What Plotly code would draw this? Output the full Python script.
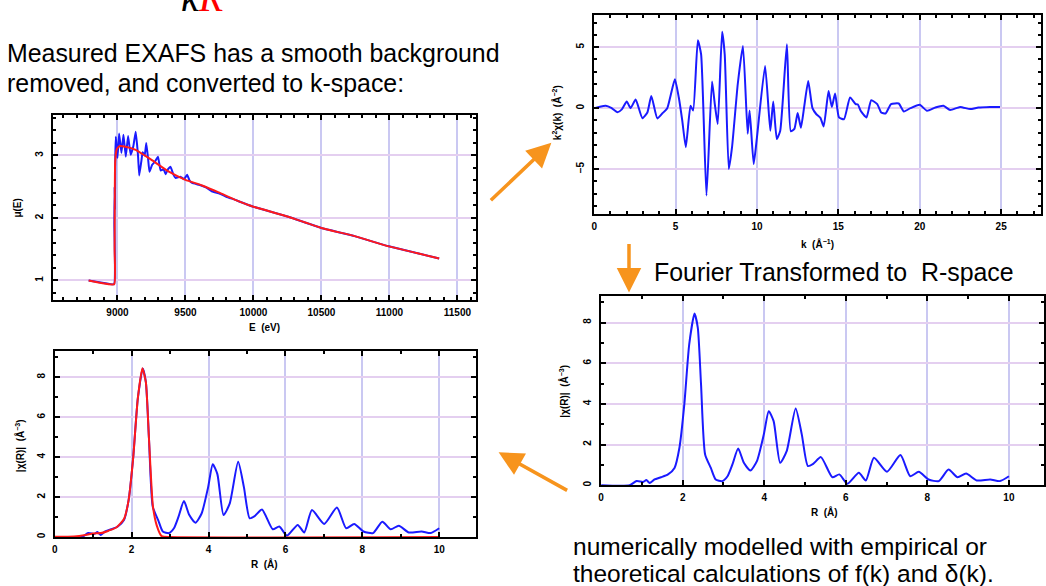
import plotly.graph_objects as go

W, H = 1046, 586

# ---------------- data ----------------
energy_blue = [8788, 8900, 8975, 8977, 8979, 8981, 8984, 8988, 9000, 9012, 9029, 9044, 9061,
               9078, 9097, 9117, 9134, 9151, 9160, 9175, 9185, 9200, 9212, 9225, 9235, 9255,
               9275, 9298, 9317, 9340, 9354, 9372, 9390, 9410, 9427, 9463, 9490, 9512, 9530,
               9549, 9600, 9650, 9700, 9750, 9800, 9866, 9900, 10000, 10256, 10500, 10744,
               10988, 11200, 11366]
mu_blue = [1.0, 0.96, 0.94, 1.9, 2.5, 2.15, 3.0, 3.3, 2.96, 3.35, 3.04, 3.33, 2.98,
           3.31, 3.01, 3.15, 3.38, 3.0, 2.68, 2.9, 3.05, 3.0, 3.2, 2.95, 2.74, 2.85,
           2.9, 2.98, 2.76, 2.78, 2.7, 2.78, 2.82, 2.7, 2.64, 2.66, 2.62, 2.69, 2.6,
           2.56, 2.53, 2.49, 2.42, 2.39, 2.34, 2.29, 2.26, 2.18, 2.02, 1.84, 1.71,
           1.55, 1.44, 1.35]

energy_bg = [8788, 8880, 8976, 8979, 8983, 8995, 9015, 9060, 9134, 9200, 9256, 9378, 9500,
             9622, 9744, 9866, 10000, 10256, 10500, 10744, 10988, 11200, 11366]
mu_bg = [1.0, 0.96, 0.94, 1.5, 2.9, 3.1, 3.15, 3.14, 3.09, 3.0, 2.92, 2.74, 2.61,
         2.52, 2.41, 2.29, 2.18, 2.02, 1.84, 1.71, 1.55, 1.44, 1.35]

k_vals = [0, 0.35, 0.71, 1.05, 1.43, 1.7, 2.0, 2.24, 2.55, 2.96, 3.27, 3.51, 3.88, 4.18,
          4.49, 4.69, 4.96, 5.2, 5.41, 5.63, 5.92, 6.08, 6.37, 6.57, 6.9, 7.24, 7.41,
          7.59, 7.86, 8.02, 8.27, 8.47, 8.82, 9.14, 9.43, 9.55, 9.8, 10.0, 10.5, 10.82,
          11.0, 11.22, 11.43, 11.84, 12.08, 12.3, 12.5, 12.7, 12.9, 13.15, 13.41, 13.65,
          13.9, 14.1, 14.4, 14.6, 14.8, 15.04, 15.35, 15.72, 16.06, 16.2, 16.37, 16.73,
          17.02, 17.39, 17.63, 17.9, 18.24, 18.71, 19.02, 19.43, 20.0, 20.45, 20.96,
          21.46, 21.87, 22.48, 23.1, 23.6, 24.32, 24.93]
k2chi = [0, 0.12, 0.19, 0.02, -0.33, -0.1, 0.54, 0.0, 0.71, -0.82, -0.35, 1.0, -0.84, -0.44,
         0.0, 1.0, 2.37, 0.87, -1.0, -3.2, 0.19, -0.2, 5.56, 4.4, -7.17, 2.18, 0.33,
         -1.3, 6.27, 4.4, -4.99, -3.2, 1.96, 5.1, -2.1, -0.2, -4.58, -2.4, 3.46, -1.85,
         0.54, -2.53, -1.85, 5.23, -1.9, -1.7, -0.4, -1.6, 0.1, 2.23, 0.0, -0.5,
         -0.8, -1.5, 1.4, 0.1, 1.2, -0.76, -0.9, 0.87, 0.33, 0.3, -0.22, -0.76,
         0.65, 0.33, -0.35, -0.44, 0.33, 0.38, -0.27, 0.0, 0.27, -0.22, 0.05,
         0.19, -0.16, 0.1, -0.08, 0.05, 0.1, 0.1]

r_vals = [0, 0.7, 0.87, 1.03, 1.11, 1.19, 1.31, 1.47, 1.64, 1.8, 1.92, 2.04, 2.16, 2.29,
          2.37, 2.45, 2.55, 2.69, 2.81, 2.97, 3.1, 3.22, 3.36, 3.5, 3.66, 3.82, 3.99,
          4.11, 4.23, 4.39, 4.55, 4.77, 4.92, 5.07, 5.2, 5.39, 5.67, 5.84, 6.04, 6.32,
          6.49, 6.69, 7.01, 7.34, 7.58, 7.79, 8.03, 8.28, 8.52, 8.74, 8.95, 9.21, 9.54,
          9.78, 10.0]
chir_mag = [0, 0, 0.2, 0.16, 0.25, 0.11, 0.28, 0.39, 0.53, 0.85, 1.84, 3.97, 6.93, 8.44,
            7.75, 4.96, 1.51, 0.85, 0.28, 0.2, 0.44, 1.02, 1.8, 1.1, 0.72, 1.18, 2.5,
            3.64, 3.15, 1.1, 1.67, 3.77, 2.5, 0.94, 1.05, 1.38, 0.39, 0.53, 0.07, 0.61,
            0.23, 1.35, 0.66, 1.48, 0.44, 0.66, 0.28, 0.2, 0.77, 0.39, 0.57, 0.23, 0.28,
            0.2, 0.44]

r_fit = [0, 0.5, 0.8, 1.0, 1.2, 1.4, 1.6, 1.8, 1.92, 2.04, 2.16, 2.28, 2.37, 2.45, 2.55,
         2.65, 2.78, 3.0, 10.0]
chir_fit = [0.02, 0.03, 0.1, 0.18, 0.2, 0.32, 0.48, 0.9, 1.84, 3.97, 6.93, 8.45, 7.75,
            4.96, 1.6, 0.6, 0.05, 0.0, 0.0]

# ---------------- helpers ----------------
def dx(a, b):
    return [a / W, b / W]

def dy(top, bottom):
    return [1 - bottom / H, 1 - top / H]

def px(x):
    return x / W

def py(y):
    return 1 - y / H

BLUE = "#1a1aff"
RED = "#ff1a1a"
ORANGE = "#f7941d"
XGRID = "#cac8f2"
YGRID = "#e4cff0"
TICKFONT = dict(family="Liberation Sans, Arial", size=10, color="black", weight="bold")

fig = go.Figure()

fig.add_trace(go.Scatter(x=energy_blue, y=mu_blue, mode="lines", xaxis="x", yaxis="y",
                         line=dict(color=BLUE, width=2, shape="spline", smoothing=0.3),
                         showlegend=False))
fig.add_trace(go.Scatter(x=energy_bg, y=mu_bg, mode="lines", xaxis="x", yaxis="y",
                         line=dict(color=RED, width=2, shape="spline", smoothing=0.4),
                         showlegend=False))
fig.add_trace(go.Scatter(x=k_vals, y=k2chi, mode="lines", xaxis="x2", yaxis="y2",
                         line=dict(color=BLUE, width=2, shape="spline", smoothing=0.5),
                         showlegend=False))
fig.add_trace(go.Scatter(x=r_vals, y=chir_mag, mode="lines", xaxis="x3", yaxis="y3",
                         line=dict(color=BLUE, width=2, shape="spline", smoothing=0.6),
                         showlegend=False))
fig.add_trace(go.Scatter(x=r_vals, y=chir_mag, mode="lines", xaxis="x4", yaxis="y4",
                         line=dict(color=BLUE, width=2, shape="spline", smoothing=0.6),
                         showlegend=False))
fig.add_trace(go.Scatter(x=r_fit, y=chir_fit, mode="lines", xaxis="x4", yaxis="y4",
                         line=dict(color=RED, width=2, shape="spline", smoothing=0.5),
                         showlegend=False))


def xax(domain, rng, dtick, minor, anchor, tick0=0):
    return dict(domain=domain, range=rng, anchor=anchor, dtick=dtick, tick0=tick0,
                tickformat="d",
                showline=True, linecolor="black", linewidth=2, mirror="ticks",
                ticks="inside", ticklen=5, tickwidth=1.5, tickcolor="black",
                minor=dict(ticks="inside", ticklen=3, tickcolor="black", dtick=minor,
                           tick0=tick0, showgrid=False),
                showgrid=True, gridcolor=XGRID, gridwidth=1.5, zeroline=False,
                tickfont=TICKFONT, ticklabelstandoff=2, fixedrange=True)


def yax(domain, rng, dtick, minor, anchor, tick0=0):
    return dict(domain=domain, range=rng, anchor=anchor, dtick=dtick, tick0=tick0,
                showline=True, linecolor="black", linewidth=2, mirror="ticks",
                ticks="inside", ticklen=5, tickwidth=1.5, tickcolor="black",
                minor=dict(ticks="inside", ticklen=3, tickcolor="black", dtick=minor,
                           tick0=tick0, showgrid=False),
                showgrid=True, gridcolor=YGRID, gridwidth=1.5, zeroline=False,
                tickfont=TICKFONT, tickangle=-90, ticklabelstandoff=4, fixedrange=True)


fig.update_layout(
    width=W, height=H, autosize=False,
    margin=dict(l=0, r=0, t=0, b=0),
    paper_bgcolor="white", plot_bgcolor="white",
    xaxis=xax(dx(50, 475), [8524, 11635], 500, 100, "y", tick0=9000),
    yaxis=yax(dy(115, 301), [0.68, 3.65], 1, 0.2, "x"),
    xaxis2=xax(dx(594, 1043), [0, 27.45], 5, 1, "y2"),
    yaxis2=yax(dy(15, 214), [-8.65, 7.64], 5, 1, "x2"),
    xaxis3=xax(dx(601, 1046), [0, 10.86], 2, 1, "y3"),
    yaxis3=yax(dy(297, 486), [0, 9.28], 2, 1, "x3"),
    xaxis4=xax(dx(52, 475), [0, 10.95], 2, 1, "y4"),
    yaxis4=yax(dy(352, 538), [0, 9.29], 2, 1, "x4"),
)

ann = []
TXT = dict(family="Liberation Sans, Arial", size=24.5, color="black")
TXT_BIG = dict(family="Liberation Sans, Arial", size=24.9, color="black")

def text(x, y, s, xanchor="left", yanchor="middle", font=TXT, angle=0):
    ann.append(dict(x=px(x), y=py(y), xref="paper", yref="paper", text=s, showarrow=False,
                    xanchor=xanchor, yanchor=yanchor, font=font, textangle=angle))

# slide texts
text(2, 53, "Measured EXAFS has a smooth background", font=TXT_BIG)
text(2, 83, "removed, and converted to k-space:", font=TXT_BIG)
text(652, 272, "Fourier Transformed to\u00a0 R-space", font=TXT_BIG)
text(571, 547, "numerically modelled with empirical or")
text(571, 574, "theoretical calculations of f(k) and \u03b4(k).")

# cut-off formula fragment at the top
ann.append(dict(x=px(177), y=py(22), xref="paper", yref="paper", showarrow=False,
                xanchor="left", yanchor="bottom",
                text="<i>k</i><i><span style='color:#ff0000'>R</span></i>",
                font=dict(family="Liberation Serif, Times New Roman", size=40, color="black")))

# axis titles
AX = dict(family="Liberation Sans, Arial", size=10, color="black", weight="bold")
text(263, 328, "E  (eV)", xanchor="center", font=AX)
text(15, 208, "\u03bc(E)", xanchor="center", font=AX, angle=-90)
text(818, 244, "k  (\u00c5<sup>\u22121</sup>)", xanchor="center", font=AX)
text(556, 113, "k<sup>2</sup>\u03c7(k)  (\u00c5<sup>\u22122</sup>)", xanchor="center", font=AX, angle=-90)
text(825, 513, "R  (\u00c5)", xanchor="center", font=AX)
text(564, 392, "|\u03c7(R)|  (\u00c5<sup>\u22123</sup>)", xanchor="center", font=AX, angle=-90)
text(263, 565, "R  (\u00c5)", xanchor="center", font=AX)
text(17, 446, "|\u03c7(R)|  (\u00c5<sup>\u22123</sup>)", xanchor="center", font=AX, angle=-90)

# orange arrows (tip, tail)
def arrow(tip, tail):
    ann.append(dict(x=px(tip[0]), y=py(tip[1]), xref="paper", yref="paper", text="",
                    showarrow=True, ax=tail[0] - tip[0], ay=tail[1] - tip[1],
                    axref="pixel", ayref="pixel", arrowcolor=ORANGE, arrowwidth=3.5,
                    arrowhead=2, arrowsize=1.4, standoff=0, startstandoff=0))

arrow((551, 143), (489, 202))
arrow((629, 293), (629, 243))
arrow((498, 453), (568, 492))

fig.update_layout(annotations=ann)

fig.write_html("out.html")
